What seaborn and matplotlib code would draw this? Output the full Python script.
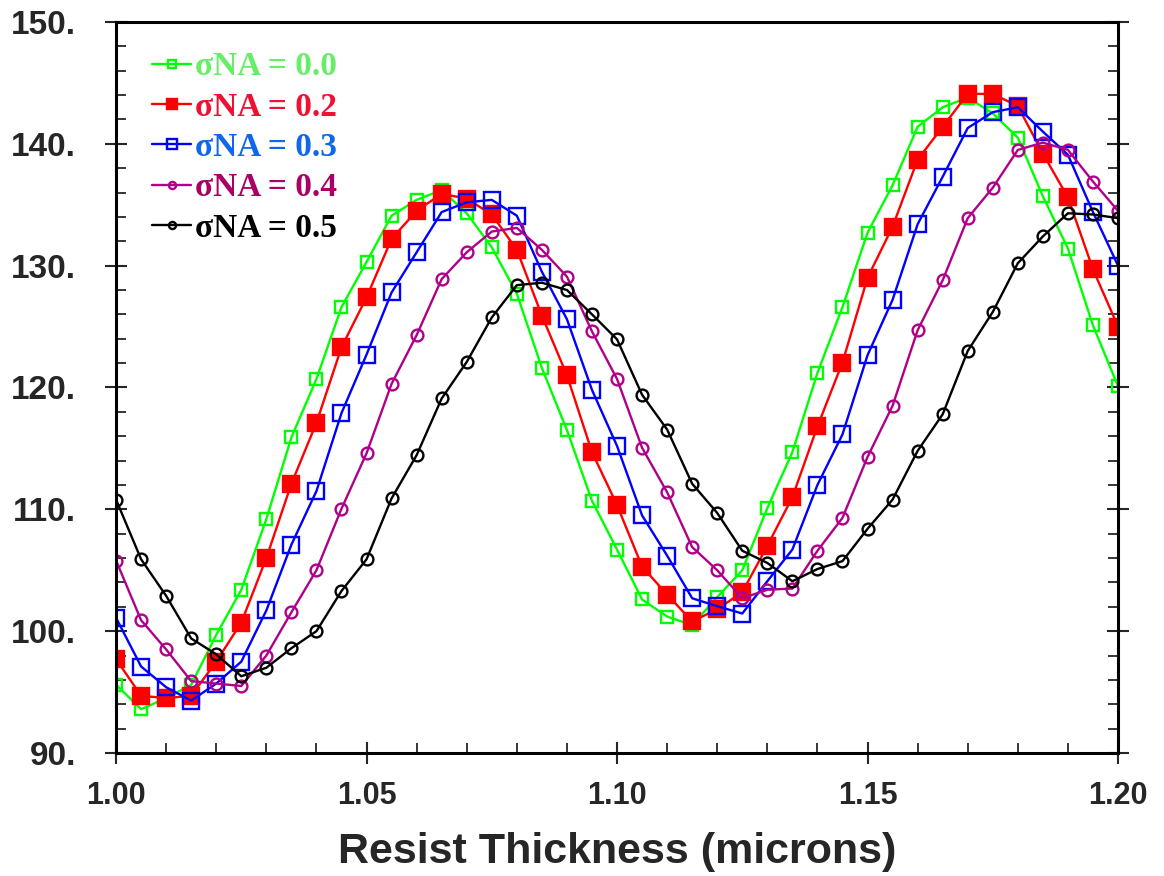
import numpy as np
import pandas as pd
import matplotlib
matplotlib.use("Agg")
import matplotlib.pyplot as plt
from matplotlib.ticker import MultipleLocator, FuncFormatter
import seaborn as sns

# -----------------------------
# data
# -----------------------------
thickness = [1.000, 1.005, 1.010, 1.015, 1.020, 1.025, 1.030, 1.035, 1.040, 1.045,
             1.050, 1.055, 1.060, 1.065, 1.070, 1.075, 1.080, 1.085, 1.090, 1.095,
             1.100, 1.105, 1.110, 1.115, 1.120, 1.125, 1.130, 1.135, 1.140, 1.145,
             1.150, 1.155, 1.160, 1.165, 1.170, 1.175, 1.180, 1.185, 1.190, 1.195,
             1.200]

sig_00 = [95.6, 93.6, 94.5, 95.6, 99.7, 103.4, 109.2, 115.9, 120.7, 126.6,
          130.3, 134.1, 135.4, 136.2, 134.3, 131.5, 127.7, 121.6, 116.5, 110.7,
          106.7, 102.6, 101.2, 100.5, 102.8, 105.0, 110.1, 114.7, 121.2, 126.6,
          132.7, 136.6, 141.4, 143.0, 143.8, 142.5, 140.5, 135.7, 131.4, 125.1,
          120.1]
sig_02 = [97.7, 94.7, 94.5, 94.7, 97.5, 100.7, 106.0, 112.1, 117.1, 123.3,
          127.4, 132.2, 134.5, 135.9, 135.5, 134.2, 131.3, 125.9, 121.0, 114.7,
          110.35, 105.3, 103.0, 100.8, 101.8, 103.2, 107.0, 111.0, 116.8, 122.05,
          129.0, 133.2, 138.7, 141.4, 144.1, 144.1, 143.1, 139.2, 135.6, 129.7,
          125.0]
sig_03 = [101.1, 97.1, 95.4, 94.3, 95.7, 97.5, 101.7, 107.1, 111.5, 117.9,
          122.7, 127.8, 131.1, 134.4, 135.2, 135.4, 134.1, 129.5, 125.6, 119.8,
          115.2, 109.5, 106.2, 102.7, 102.05, 101.45, 104.1, 106.7, 112.0, 116.15,
          122.65, 127.2, 133.4, 137.3, 141.3, 142.6, 143.0, 141.0, 139.1, 134.4,
          130.0]
sig_04 = [105.8, 100.9, 98.5, 95.9, 95.7, 95.5, 98.0, 101.55, 105.0, 110.05,
          114.6, 120.3, 124.3, 128.9, 131.1, 132.8, 133.1, 131.3, 129.1, 124.6,
          120.7, 115.05, 111.4, 106.9, 105.0, 102.7, 103.4, 103.5, 106.6, 109.3,
          114.3, 118.5, 124.7, 128.8, 133.9, 136.4, 139.5, 140.1, 139.5, 136.9,
          134.5]
sig_05 = [110.8, 105.9, 102.9, 99.4, 98.1, 96.3, 97.0, 98.6, 100.0, 103.3,
          105.9, 110.9, 114.45, 119.1, 122.1, 125.75, 128.4, 128.6, 128.0, 126.0,
          123.95, 119.4, 116.55, 112.1, 109.7, 106.6, 105.6, 104.1, 105.1, 105.75,
          108.4, 110.8, 114.8, 117.8, 123.0, 126.2, 130.2, 132.4, 134.3, 134.2,
          133.9]

labels = ["\u03c3NA = 0.0", "\u03c3NA = 0.2", "\u03c3NA = 0.3", "\u03c3NA = 0.4", "\u03c3NA = 0.5"]
series = [sig_00, sig_02, sig_03, sig_04, sig_05]

# -----------------------------
# styles
# -----------------------------
line_colors = ["#00ff00", "#ff0000", "#0000ff", "#b0008a", "#000000"]
text_colors = ["#66ee66", "#ee1133", "#1166ee", "#aa0066", "#000000"]
markers = ["s", "s", "s", "o", "o"]
filled = [False, True, False, False, False]
msizes = [8.5, 11, 11.5, 8.5, 8.5]

sns.set_style("ticks")
plt.rcParams["font.family"] = ["Liberation Sans", "DejaVu Sans"]

fig = plt.figure(figsize=(11.64, 8.76), dpi=100)
ax = fig.add_axes([0.0997, 0.1404, 0.8608, 0.8345])

for lab, vals, lc, mk, fl, ms in zip(labels, series, line_colors, markers, filled, msizes):
    df = pd.DataFrame({"thickness": thickness, "cd": vals})
    sns.lineplot(data=df, x="thickness", y="cd", ax=ax, color=lc, lw=1.7,
                 marker=mk, markersize=ms, markeredgewidth=1.7,
                 markeredgecolor=lc, markerfacecolor=lc if fl else "none",
                 label=lab)

ax.set_xlim(1.0, 1.2)
ax.set_ylim(90, 150)
ax.xaxis.set_major_locator(MultipleLocator(0.05))
ax.xaxis.set_minor_locator(MultipleLocator(0.01))
ax.yaxis.set_major_locator(MultipleLocator(10))
ax.yaxis.set_minor_locator(MultipleLocator(2))
ax.xaxis.set_major_formatter(FuncFormatter(lambda v, p: f"{v:.2f}"))
ax.yaxis.set_major_formatter(FuncFormatter(lambda v, p: f"{v:.0f}."))

ax.tick_params(which="major", direction="inout", length=16, width=1.5,
               top=False, right=True)
ax.tick_params(axis="x", which="major", labelsize=22, pad=12)
ax.tick_params(axis="y", which="major", labelsize=24, pad=21)
ax.tick_params(which="minor", direction="in", length=7, width=1.3,
               top=False, right=True)
for lbl in ax.get_xticklabels() + ax.get_yticklabels():
    lbl.set_fontweight("bold")
for sp in ax.spines.values():
    sp.set_linewidth(2.2)
    sp.set_color("black")

ax.set_xlabel("Resist Thickness (microns)", fontsize=31, fontweight="bold", labelpad=15)
ax.set_ylabel("")

leg = ax.legend(loc="upper left", bbox_to_anchor=(0.023, 0.978), borderaxespad=0,
                frameon=False,
                prop={"family": ["Liberation Serif", "DejaVu Serif"], "weight": "bold", "size": 24},
                handlelength=1.15, handletextpad=0.12, labelspacing=0.28, markerscale=0.6)
for txt, tc in zip(leg.get_texts(), text_colors):
    txt.set_color(tc)

fig.savefig("out.png", dpi=100)
